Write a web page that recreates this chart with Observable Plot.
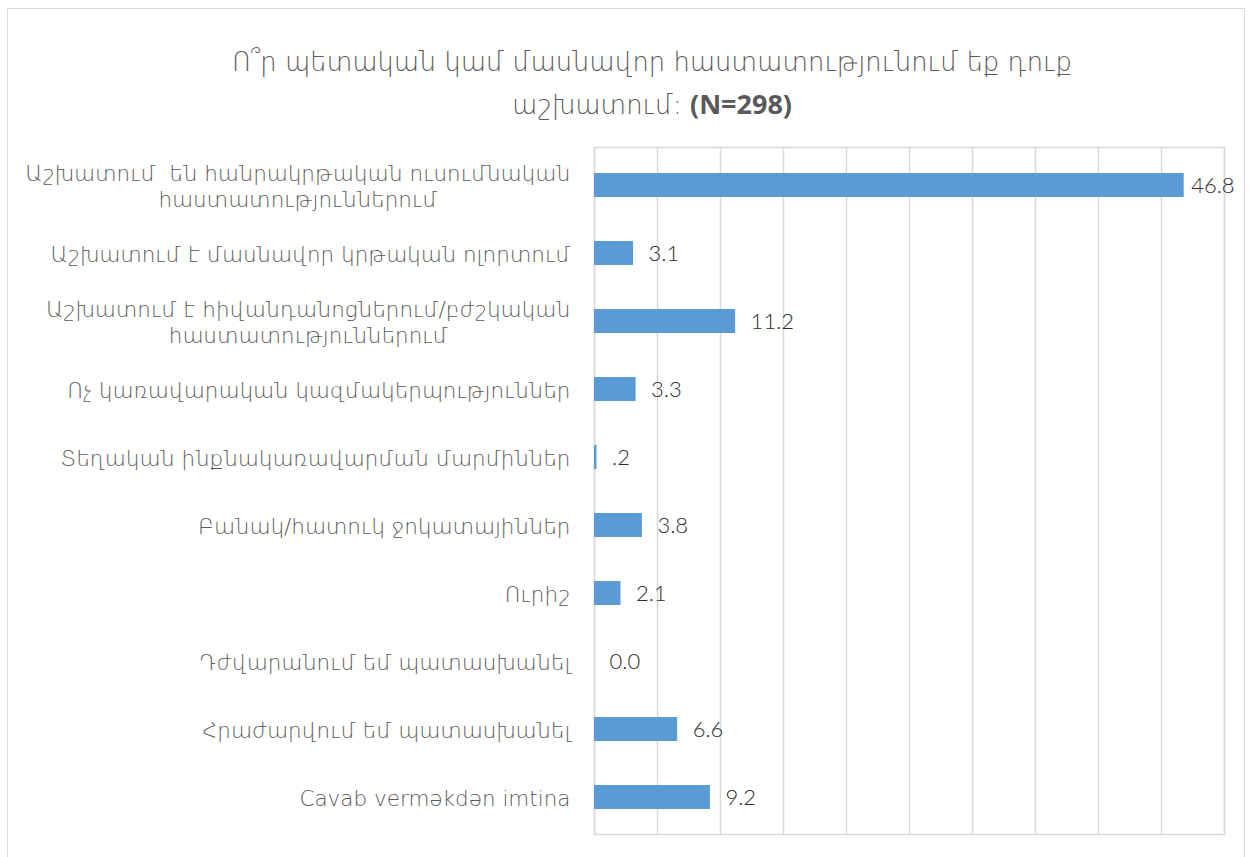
<!DOCTYPE html>
<html>
<head>
<meta charset="utf-8">
<script src="https://cdn.jsdelivr.net/npm/d3@7"></script>
<script src="https://cdn.jsdelivr.net/npm/@observablehq/plot@0.6"></script>
<style>
  html, body { margin: 0; padding: 0; background: #fff; }
  #page { position: relative; width: 1252px; height: 857px; overflow: hidden; }
  #border { position: absolute; left: 7px; top: 8px; width: 1238px; height: 870px; border: 1px solid #d9d9d9; box-sizing: border-box; }
  #title { position: absolute; left: 26px; top: 42px; width: 1252px; text-align: center;
           font-family: "DejaVu Sans", sans-serif; font-weight: 200; font-size: 25.8px; line-height: 41px; color: #595959; }
  #title b { font-family: "Open Sans", sans-serif; font-weight: 700; font-size: 27px; }
  #chart { position: absolute; left: 0; top: 130px; }
</style>
</head>
<body>
<div id="page">
  <div id="border"></div>
  <div id="title">Ո՞ր պետական կամ մասնավոր հաստատությունում եք դուք<br>աշխատում: <b>(N=298)</b></div>
  <div id="chart"></div>
</div>
<script>
const categories = [
  "Աշխատում  են հանրակրթական ուսումնական\nհաստատություններում",
  "Աշխատում է մասնավոր կրթական ոլորտում",
  "Աշխատում է հիվանդանոցներում/բժշկական\nհաստատություններում",
  "Ոչ կառավարական կազմակերպություններ",
  "Տեղական ինքնակառավարման մարմիններ",
  "Բանակ/հատուկ ջոկատայիններ",
  "Ուրիշ",
  "Դժվարանում եմ պատասխանել",
  "Հրաժարվում եմ պատասխանել",
  "Cavab verməkdən imtina"
];
const values = [46.8, 3.1, 11.2, 3.3, 0.2, 3.8, 2.1, 0.0, 6.6, 9.2];
const valueLabels = ["46.8", "3.1", "11.2", "3.3", ".2", "3.8", "2.1", "0.0", "6.6", "9.2"];
const xDomain = [0, 50];

const data = categories.map((c, i) => ({category: c, value: values[i], label: valueLabels[i]}));

const labelStyle = {fill: "#2e2e2e", fontSize: 22, fontWeight: 300, fontFamily: "Lato, sans-serif"};

const chart = Plot.plot({
  width: 1252,
  height: 727,
  marginLeft: 594,
  marginRight: 28,
  marginTop: 17,
  marginBottom: 23,
  style: {fontFamily: "DejaVu Sans, sans-serif", background: "transparent"},
  x: {domain: xDomain, axis: null},
  y: {domain: categories, paddingInner: 0.65, paddingOuter: 0.325, axis: null},
  marks: [
    Plot.gridX({ticks: 10, stroke: "#d9d9d9", strokeOpacity: 1, strokeWidth: 1.5}),
    Plot.frame({stroke: "#d9d9d9", strokeWidth: 1.5}),
    Plot.barX(data, {x: "value", y: "category", fill: "#5b9bd5"}),
    Plot.text(data.filter(d => d.value < 40), {x: "value", y: "category", text: "label", dx: 15, textAnchor: "start", ...labelStyle}),
    Plot.text(data.filter(d => d.value >= 40), {x: "value", y: "category", text: "label", dx: 7, textAnchor: "start", ...labelStyle}),
    Plot.axisY({tickSize: 0, tickPadding: 24, label: null, fontSize: 21.5, fill: "#595959",
      fontWeight: 200, lineHeight: 1.2})
  ]
});
document.getElementById("chart").appendChild(chart);

// center multi-line axis labels relative to each other (as in the original)
chart.querySelectorAll("[aria-label='y-axis tick label'] text").forEach(t => {
  if (t.querySelectorAll("tspan").length > 1) {
    const w = t.getBBox().width;
    t.setAttribute("text-anchor", "middle");
    t.setAttribute("transform", (t.getAttribute("transform") || "") + ` translate(${-w / 2},0)`);
  }
});
</script>
</body>
</html>
